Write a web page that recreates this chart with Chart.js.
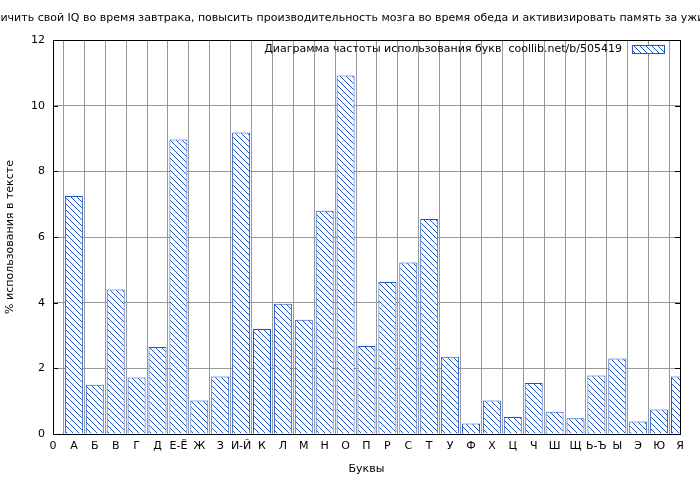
<!DOCTYPE html>
<html><head><meta charset="utf-8">
<script src="https://cdn.jsdelivr.net/npm/chart.js@4"></script>
<style>html,body{margin:0;padding:0;background:#fff}#w{width:700px;height:480px}</style>
</head><body><div id="w"><canvas id="c" width="700" height="480"></canvas></div>
<script>
const categories = ["0","А","Б","В","Г","Д","Е-Ё","Ж","З","И-Й","К","Л","М","Н","О","П","Р","С","Т","У","Ф","Х","Ц","Ч","Ш","Щ","Ь-Ъ","Ы","Э","Ю","Я"];
const values = [null,7.25,1.5,4.4,1.72,2.65,8.97,1.02,1.75,9.18,3.2,3.97,3.48,6.8,10.92,2.68,4.63,5.22,6.55,2.35,0.32,1.02,0.52,1.55,0.68,0.48,1.78,2.3,0.38,0.75,1.75];
const yTicks = [0,2,4,6,8,10,12];
const titleText = "Увеличить свой IQ во время завтрака, повысить производительность мозга во время обеда и активизировать память за ужином";
const legendText = "Диаграмма частоты использования букв  coollib.net/b/505419";
const blue = "#1e56c8";
const FONT = "DejaVu Sans";

function hatch(){
  const p=document.createElement('canvas');p.width=6;p.height=6;
  const g=p.getContext('2d');g.fillStyle='#fff';g.fillRect(0,0,6,6);
  g.strokeStyle=blue;g.lineWidth=1;
  g.beginPath();g.moveTo(-1,-1);g.lineTo(7,7);g.moveTo(-1,5);g.lineTo(1,7);g.moveTo(5,-1);g.lineTo(7,1);g.stroke();
  return g.createPattern(p,'repeat');
}
const pat = hatch();

const extras = {
  id:'extras',
  afterDraw(ch){
    const c=ch.ctx, a=ch.chartArea;
    c.save();
    c.fillStyle='#000';c.font='11px "'+FONT+'"';c.textAlign='center';c.textBaseline='middle';
    c.fillText(titleText,350,18);
    c.strokeStyle='#000';c.lineWidth=1;
    c.strokeRect(Math.round(a.left)+0.5,Math.round(a.top)+0.5,Math.round(a.right-a.left),Math.round(a.bottom-a.top));
    // tick marks on right
    const ys=ch.scales.y;
    yTicks.forEach(v=>{const y=Math.round(ys.getPixelForValue(v))+0.5;
      c.beginPath();c.moveTo(a.left,y);c.lineTo(a.left+5,y);c.moveTo(a.right,y);c.lineTo(a.right-5,y);c.stroke();});
    // legend
    c.textAlign='right';c.font='11px "'+FONT+'"';
    c.fillText(legendText,622,49);
    c.fillStyle=pat;c.fillRect(632,45,32,8);
    c.strokeStyle=blue;c.strokeRect(632.5,45.5,32,8);
    c.restore();
  }
};

new Chart(document.getElementById('c'),{
  type:'bar',
  data:{labels:categories,datasets:[{data:values,backgroundColor:pat,borderColor:blue,borderWidth:1,barPercentage:0.86,categoryPercentage:1}]},
  options:{
    responsive:false,animation:false,
    layout:{padding:{top:40,right:20,left:0,bottom:0}},
    plugins:{legend:{display:false},tooltip:{enabled:false}},
    scales:{
      x:{offset:false,
        afterFit(s){s.height=46;},
        grid:{color:'#999',borderDash:[2,3],drawTicks:false},border:{display:false},
        ticks:{color:'#000',font:{family:FONT,size:11},padding:6,maxRotation:0,autoSkip:false},
        title:{display:true,text:'Буквы',color:'#000',font:{family:FONT,size:11},padding:{top:6}}},
      y:{min:0,max:12,
        afterFit(s){s.width=53;},
        afterBuildTicks(s){s.ticks=yTicks.map(v=>({value:v}));},
        grid:{color:'#999',borderDash:[2,3],drawTicks:false},border:{display:false},
        ticks:{color:'#000',font:{family:FONT,size:11},padding:8},
        title:{display:true,text:'% использования в тексте',color:'#000',font:{family:FONT,size:11},padding:{bottom:4}}}
    }
  },
  plugins:[extras]
});
</script></body></html>
